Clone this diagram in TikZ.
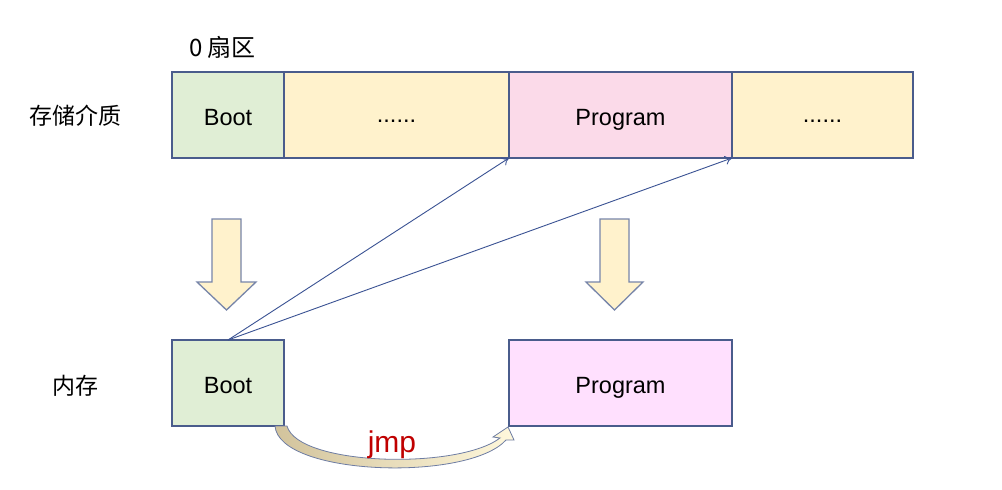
\documentclass[tikz,border=0pt]{standalone}
\usepackage{fontspec}
\setmainfont{Liberation Sans}
\newfontfamily\cjk{Noto Sans CJK SC}
\usetikzlibrary{arrows.meta}
\definecolor{bordc}{HTML}{4A5C8C}
\definecolor{greenc}{HTML}{E0EED5}
\definecolor{yellowc}{HTML}{FFF2CC}
\definecolor{pinkc}{HTML}{FBDAE9}
\definecolor{magc}{HTML}{FFE0FE}
\definecolor{linec}{HTML}{3A5293}
\definecolor{jmpc}{HTML}{C00000}
\definecolor{tanc}{HTML}{D2C39C}
\definecolor{creamc}{HTML}{FFF8DC}
\begin{document}
\begin{tikzpicture}[x=1pt,y=-1pt,
 cell/.style={draw=bordc, line width=1.2pt, inner sep=0pt, outer sep=0pt, anchor=north west, minimum height=86pt, text height=20.5pt, text depth=0pt, font=\fontsize{23.5}{27}\selectfont, text=black},
 dotcell/.style={cell, text height=14pt},
 lbl/.style={font=\cjk\fontsize{23}{27}\selectfont, inner sep=0pt},
 bigarrow/.style={fill=yellowc, draw=bordc!75, line width=1.3pt, line join=miter},
 link/.style={draw=linec, line width=0.9pt, -{To[length=7pt,width=9pt]}},
 jmparrow/.style={left color=tanc, right color=creamc, draw=bordc!80, line width=0.8pt}]
\useasboundingbox (0,0) rectangle (1002,490);
\fill[white] (0,0) rectangle (1002,490);

% storage medium
\node[cell, fill=greenc, minimum width=112pt] (sboot) at (172,72) {Boot};
\node[dotcell, fill=yellowc, minimum width=225pt] (sdots1) at (284,72) {......};
\node[cell, fill=pinkc, minimum width=223pt] (sprog) at (509,72) {Program};
\node[dotcell, fill=yellowc, minimum width=181pt] (sdots2) at (732,72) {......};

% labels
\node[lbl] (lstore) at (76,116) {存储介质};
\node[lbl] (lmem) at (75,386) {内存};
\node[lbl, anchor=west, font=\cjk\fontsize{24}{28}\selectfont] (lsec) at (189,47) {0 扇区};

% memory
\node[cell, fill=greenc, minimum width=112pt] (mboot) at (172,340) {Boot};
\node[cell, fill=magc, minimum width=223pt] (mprog) at (509,340) {Program};

% big down arrows
\draw[bigarrow] (212,219) -- (241,219) -- (241,282) -- (256,282) -- (226.5,310) -- (197,282) -- (212,282) -- cycle;
\draw[bigarrow] (600,219) -- (629,219) -- (629,282) -- (643,282) -- (614.5,310) -- (586,282) -- (600,282) -- cycle;

% links
\coordinate (bt) at (228,340);
\draw[link] (bt) -- (sprog.south west);
\draw[link] (bt) -- (sdots2.south west);

% jmp curved arrow
\path[jmparrow] (275,426) .. controls (279,476) and (468,482) .. (506,440)
  -- (514,440) -- (508,427) -- (493,437) -- (500,438)
  .. controls (458,470) and (298,466) .. (287,426) -- cycle;
\node[font=\fontsize{30}{33}\selectfont, text=jmpc, anchor=base, inner sep=0pt] (jmp) at (392,452) {jmp};
\end{tikzpicture}
\end{document}
